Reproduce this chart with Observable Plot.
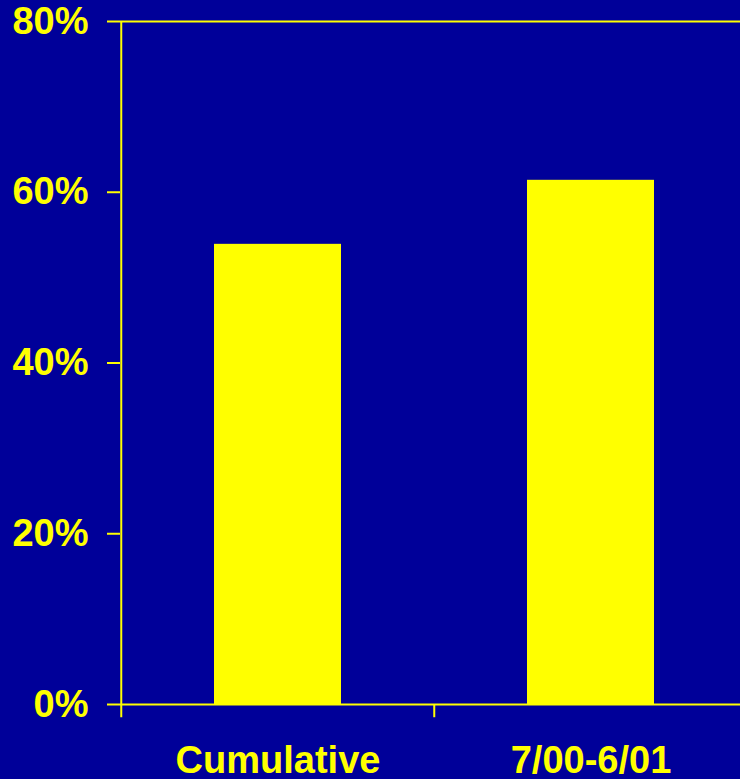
<!DOCTYPE html>
<html>
<head>
<meta charset="utf-8">
<script src="https://cdn.jsdelivr.net/npm/d3@7"></script>
<script src="https://cdn.jsdelivr.net/npm/@observablehq/plot@0.6"></script>
<style>
  html, body { margin: 0; padding: 0; background: #000099; overflow: hidden; }
  #chart svg { display: block; overflow: visible; }
</style>
</head>
<body>
<div id="chart"></div>
<script>
const categories = ["Cumulative", "7/00-6/01"];
const values = [53.9, 61.4];
const yTicks = [0, 20, 40, 60, 80];

const data = categories.map((c, i) => ({cat: c, value: values[i]}));
const yellow = "#ffff00";
const font = "'Liberation Sans', Arial, Helvetica, sans-serif";

const chart = Plot.plot({
  width: 740,
  height: 779,
  marginTop: 21,
  marginBottom: 75,
  marginLeft: 120,
  marginRight: 0,
  style: {background: "#000099", color: yellow, fontFamily: font},
  x: {type: "band", domain: categories, range: [120, 747], padding: 0, label: null},
  y: {domain: [0, 80], label: null},
  marks: [
    Plot.barY(data, {x: "cat", y: "value", fill: yellow, insetLeft: 93, insetRight: 93}),
    Plot.ruleY([0, 80], {stroke: yellow, strokeWidth: 2}),
    Plot.ruleX(categories, {
      x: d => d, dx: -156.75,
      y1: -1.55,
      y2: d => d === categories[0] ? 80 : 0,
      stroke: yellow, strokeWidth: 2
    }),
    Plot.axisY({
      ticks: yTicks, tickFormat: d => d + "%", tickSize: 13, tickPadding: 19,
      stroke: yellow, strokeWidth: 2, fill: yellow, label: null,
      fontSize: 38, fontWeight: "bold", fontFamily: font
    }),
    Plot.axisX({
      tickSize: 0, tickPadding: 42, fill: yellow, label: null,
      fontSize: 38, fontWeight: "bold", fontFamily: font
    })
  ]
});
document.getElementById("chart").appendChild(chart);
</script>
</body>
</html>
